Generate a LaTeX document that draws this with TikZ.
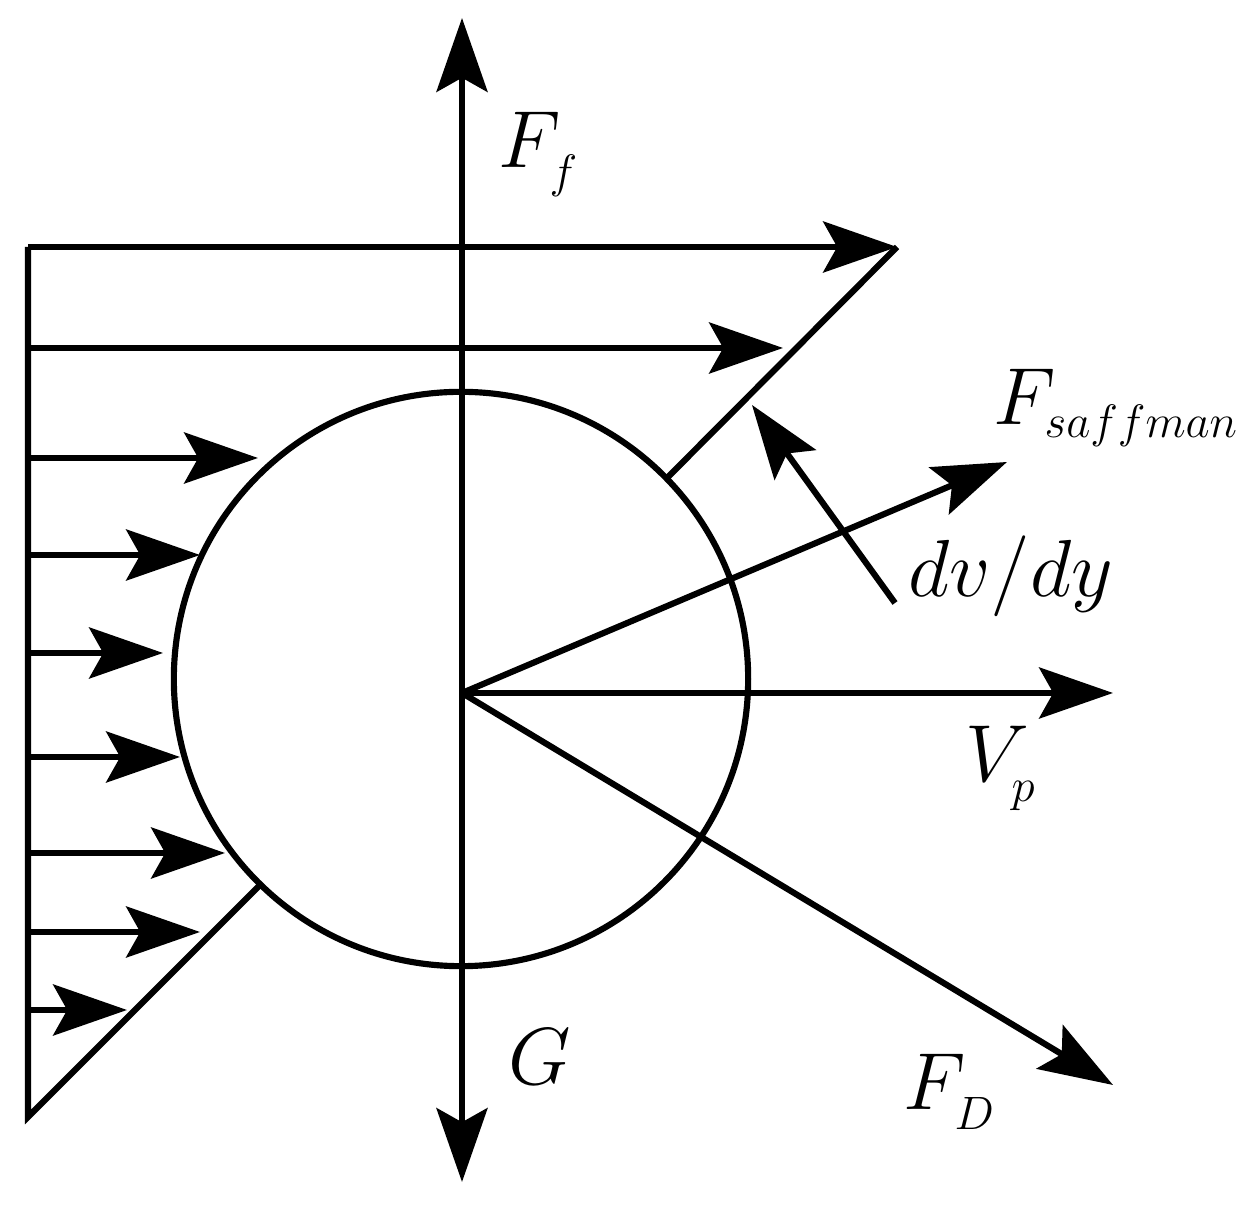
\documentclass[tikz,border=0pt]{standalone}
\usetikzlibrary{arrows.meta}
\DeclareMathSizes{20.74}{20.74}{12}{10}
\begin{document}
\begin{tikzpicture}[x=0.01cm,y=-0.01cm, line width=1.75pt,
  arr/.style={-{Stealth[length=21pt,width=14.5pt,inset=4pt]}},
  lbl/.style={anchor=base west, inner sep=0pt, scale=1.11, font=\fontsize{20.74}{25}\selectfont}]
\useasboundingbox (0,0) rectangle (1257,1207);
% particle
\node[circle, draw, minimum size=5.74cm, inner sep=0pt] (part) at (461,679) {};
% key points
\coordinate (O) at (462,693);
\coordinate (top) at (462,18);
\coordinate (bot) at (462,1182);
\coordinate (sf) at (1007,462);
\coordinate (vp) at (1113,693);
\coordinate (fd) at (1113,1085);
\coordinate (dvT) at (752,405);
\coordinate (dvS) at (895,603);
% velocity profile
\coordinate (pB) at (28,1117);
\coordinate (pT) at (28,247);
\coordinate (pE) at (897,247);
\coordinate (pC1) at (260.6,884.4);
\coordinate (pC2) at (666.4,478.6);
\draw (pC1) -- (pB) -- (pT);
\draw (pC2) -- (pE);
\foreach \yy/\xx [count=\i] in {247/897, 348/783, 458/258, 555/200, 653/163, 757/180, 853/225, 932/200, 1010/127} {
  \coordinate (s\i) at (28,\yy);
  \coordinate (e\i) at (\xx,\yy);
  \draw[arr] (s\i) -- (e\i);
}
% forces
\draw[arr] (O) -- (top);
\draw[arr] (O) -- (bot);
\draw[arr] (O) -- (sf);
\draw[arr] (O) -- (vp);
\draw[arr] (O) -- (fd);
\draw[arr] (dvS) -- (dvT);
% labels
\node[lbl] (lFf) at (495,168) {$F_{\raisebox{-2pt}{$\scriptstyle f$}}$};
\node[lbl] (lFs) at (990,425) {$F_{saffman}$};
\node[lbl] (ldv) at (905,597) {$dv/dy$};
\node[lbl] (lVp) at (962,782) {$V_{\raisebox{-2pt}{$\scriptstyle p$}}$};
\node[lbl] (lG) at (505,1085) {$G$};
\node[lbl] (lFD) at (900,1110) {$F_{\raisebox{-2pt}{$\scriptstyle D$}}$};
\end{tikzpicture}
\end{document}
